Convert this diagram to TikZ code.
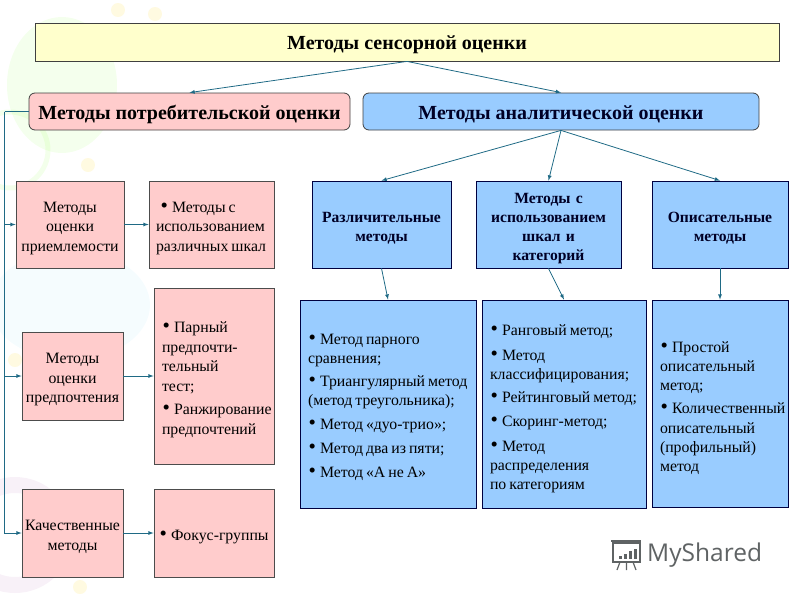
\documentclass[tikz,border=0pt]{standalone}
\usepackage{fontspec}
\setmainfont{Liberation Serif}
\newfontfamily\logofont{Open Sans}
\definecolor{pink_fill}{HTML}{FFCCCC}
\definecolor{blue_fill}{HTML}{99CCFF}
\definecolor{yellow_fill}{HTML}{FFFFCC}
\definecolor{link_col}{HTML}{1F6A85}
\definecolor{logo_col}{HTML}{5F6364}
\def\tightwords{\spaceskip=0.19em\relax}
\tikzset{
  head_box/.style={draw=black!75,thick,rounded corners=6pt,align=center,
      font=\fontsize{20}{24}\selectfont\bfseries,
      execute at begin node={\rule{0pt}{20pt}}},
  pink_box/.style={draw=black!70,thick,fill=pink_fill,align=center,inner sep=0pt,
      font=\fontsize{15.8}{19.5}\selectfont,
      execute at begin node={\tightwords\rule{0pt}{18pt}}},
  crit_box/.style={pink_box,text width=100},
  blue_box/.style={draw=black!75!blue,thick,fill=blue_fill,align=center,inner sep=0pt,
      text=black!85!blue,font=\fontsize{15.6}{19}\selectfont\bfseries,text width=130,
      execute at begin node={\rule{0pt}{18pt}}},
  list_box/.style={draw=black!75!blue,thick,align=left,inner xsep=8pt,inner ysep=0pt,
      font=\fontsize{15.8}{19.3}\selectfont,
      execute at begin node={\tightwords\rule{0pt}{#1}}},
  link/.style={draw=link_col,thick,-latex},
  bg_spot/.style={line width=#1,opacity=0.08}
}
\def\mitem{\leavevmode\hbox to 12pt{\hskip0.5pt{\fontsize{21}{19}\selectfont\textbullet}\hss}}

\begin{document}
\begin{tikzpicture}[x=1pt,y=-1pt]
  \useasboundingbox (0,0) rectangle (800,600);

  \fill[green!60!yellow,opacity=0.07] (62,85) ellipse (55 and 68);
  \draw[bg_spot=5pt,green!60!yellow] (10,150) circle (38);
  \fill[cyan,opacity=0.04] (70,305) ellipse (80 and 55);
  \draw[bg_spot=16pt,violet!70] (15,535) circle (50);
  \foreach \x/\y in {118/10,155/14,88/165,15/360,80/587} {
      \fill[yellow!70!orange,opacity=0.12] (\x,\y) circle (7);
    }

  \node[head_box,sharp corners,fill=yellow_fill,minimum width=744,minimum height=38] (sens_top) at (407,42) {Методы сенсорной оценки};
  \node[head_box,fill=pink_fill,minimum width=321,minimum height=37] (cons_top) at (189.5,111.5) {Методы потребительской оценки};
  \node[head_box,fill=blue_fill,text=black!85!blue,minimum width=396,minimum height=37] (anal_top) at (561,111.5) {Методы аналитической оценки};

  \node[crit_box,minimum width=108,minimum height=87] (crit_1) at (70,224.5) {Методы\\оценки\\приемлемости};
  \node[crit_box,minimum width=101,minimum height=88] (crit_2) at (72.5,376) {Методы\\оценки\\предпочтения};
  \node[crit_box,minimum width=101,minimum height=88] (crit_3) at (72.5,533) {Качественные\\методы};

  \node[pink_box,align=left,inner xsep=7pt,text width=111,minimum width=125,minimum height=87] (opt_1) at (211.5,224.5)
    {\hspace*{4pt}\mitem Методы с\\использованием\\различных~шкал};
  \node[pink_box,align=left,inner xsep=8pt,text width=104,minimum width=120,minimum height=176] (opt_2) at (214,376)
    {\mitem Парный\\предпочти-\\тельный\\тест;\\[4pt]\mitem Ранжирование\\предпочтений};
  \node[pink_box,align=left,inner xsep=5pt,text width=110,minimum width=120,minimum height=88] (opt_3) at (214,533)
    {\mitem \mbox{Фокус-группы}};

  \node[blue_box,minimum width=139,minimum height=87] (kind_1) at (381.5,224.5) {Различительные\\методы};
  \node[blue_box,minimum width=145,minimum height=87] (kind_2) at (548.5,224.5) {Методы с\\использованием\\шкал и\\категорий};
  \node[blue_box,minimum width=136,minimum height=87] (kind_3) at (720,224.5) {Описательные\\методы};

  \node[list_box=17pt,fill=blue_fill,text width=160,minimum height=208] (list_1) at (388,404)
    {\mitem Метод~парного\\сравнения;\\[4pt]\mitem Триангулярный~метод\\(метод~треугольника);\\[4pt]\mitem Метод~«дуо-трио»;\\[5pt]\mitem Метод~два~из~пяти;\\[5pt]\mitem Метод~«А~не~А»};
  \node[list_box=21pt,fill=blue_fill,text width=148,minimum height=208] (list_2) at (564,404)
    {\mitem Ранговый~метод;\\[5pt]\mitem Метод\\классифицирования;\\[4pt]\mitem Рейтинговый~метод;\\[5pt]\mitem Скоринг-метод;\\[5pt]\mitem Метод\\распределения\\по~категориям};
  \node[list_box=20pt,fill=blue_fill,text width=120,minimum height=207] (list_3) at (720,403.5)
    {\mitem Простой\\описательный\\метод;\\[4pt]\mitem Количественный\\описательный\\(профильный)\\метод};

  \draw[link] (sens_top.south) -- (cons_top.north);
  \draw[link] (sens_top.south) -- (anal_top.north);
  \foreach \m in {1,2,3} {
      \draw[link] (anal_top.south) -- (kind_\m.north);
      \draw[link] (kind_\m.south) -- (list_\m.north);
    }
  \draw[draw=link_col,thick] (cons_top.west) -- ++(-24,0) coordinate (bus_top);
  \foreach \m in {1,2,3} {
      \draw[link] (bus_top) |- (crit_\m.west);
      \draw[link] (crit_\m.east) -- (opt_\m.west);
    }

  \node[anchor=west,inner sep=0pt,text=logo_col,font=\logofont\fontsize{24.5}{25}\selectfont] (logo_text) at (647,555) {MyShared};
  \draw[logo_col,line width=1.4pt] (613,543) rectangle (640,562);
  \draw[logo_col,line width=1.4pt] (611,541) -- (641,541);
  \foreach \x/\h in {619/3,624/5,629/8,634/10} {
      \fill[logo_col] (\x,559) rectangle ++(3,-\h);
    }
  \draw[logo_col,line width=1.2pt] (620,562) -- (617,570) (626.5,562) -- (626.5,570) (633,562) -- (636,570);
\end{tikzpicture}
\end{document}
